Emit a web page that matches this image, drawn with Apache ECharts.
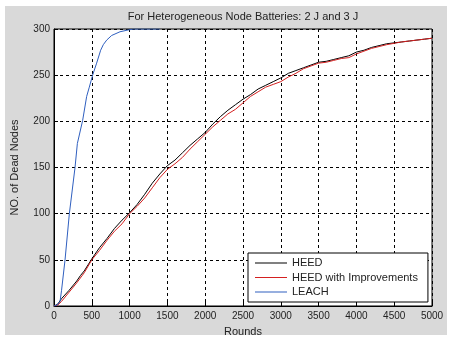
<!DOCTYPE html>
<html><head><meta charset="utf-8">
<script src="https://cdn.jsdelivr.net/npm/echarts@6/dist/echarts.min.js"></script>
<style>html,body{margin:0;padding:0;background:#fff}#c{width:452px;height:343px}</style>
</head><body><div id="c"></div>
<script>
const heedRounds = [0,50,100,200,300,350,400,500,600,700,800,900,1000,1100,1200,1300,1400,1500,1600,1700,1800,1900,2000,2100,2200,2300,2400,2500,2600,2700,2800,2900,3000,3100,3200,3300,3400,3500,3600,3700,3800,3900,4000,4100,4200,4300,4400,4500,4600,4700,4800,4900,5000];
const heed = [0,2,8,17,27,33,38,51,63,73,84,93,101,110,121,133,143,152,158,166,174,181,188,197,205,212,218,224,229,235,239,243,247,252,255,258,261,264,265,267,269,271,275,277,280,282,284,285,286,287,288,289,290];
const impRounds = [0,50,100,200,300,400,500,600,700,800,900,1000,1100,1200,1300,1400,1500,1600,1700,1800,1900,2000,2100,2200,2300,2400,2500,2600,2700,2800,2900,3000,3100,3200,3300,3400,3500,3600,3700,3800,3900,4000,4100,4200,4300,4400,4500,4600,4700,4800,4900,5000];
const heedImp = [0,1,5,15,25,36,50,60,71,81,89,100,108,117,128,139,148,154,161,170,178,186,194,201,208,213,220,227,232,237,240,243,248,252,257,260,263,264,266,268,269,273,276,279,281,283,284.5,286,287,288,289,290];
const leachRounds = [0,40,80,100,146,203,278,309,379,432,467,511,564,617,652,697,763,873,983,1050,1400];
const leach = [0,1,5,17,50,100,150,176,201,227,237,250,263,277,283,288,293,297,299,300,300];
const xTicks = [0,500,1000,1500,2000,2500,3000,3500,4000,4500,5000];
const yTicks = [0,50,100,150,200,250,300];

const zip = (a,b)=>a.map((v,i)=>[v,b[i]]);
const font = 'Liberation Sans, Arial, sans-serif';
const chart = echarts.init(document.getElementById('c'));
const dashed = {show:true,lineStyle:{color:'#000',type:[3,3],width:1}};
chart.setOption({
  backgroundColor:'#fff',
  animation:false,
  textStyle:{fontFamily:font},
  graphic:[
    {type:'rect',z:-100,silent:true,shape:{x:5,y:6,width:442,height:329},style:{fill:'#d9d9d9'}},
    {type:'text',x:243,y:17,style:{text:'For Heterogeneous Node Batteries: 2 J and 3 J',textAlign:'center',textVerticalAlign:'middle',font:'11px '+font,fill:'#222'}}
  ],
  grid:{left:54,right:20,top:29,bottom:37,show:true,backgroundColor:'#fff',borderColor:'#000',borderWidth:1},
  xAxis:{type:'value',min:xTicks[0],max:xTicks[xTicks.length-1],interval:500,
    name:'Rounds',nameLocation:'middle',nameGap:20,nameTextStyle:{fontSize:11,color:'#222',fontFamily:font},
    axisLine:{show:true,lineStyle:{color:'#000'}},axisTick:{show:true,inside:true,length:4,lineStyle:{color:'#000'}},
    axisLabel:{fontSize:10,color:'#222',margin:5,fontFamily:font,formatter:v=>String(v)},splitLine:dashed},
  yAxis:{type:'value',min:yTicks[0],max:yTicks[yTicks.length-1],interval:50,
    name:'NO. of Dead Nodes',nameLocation:'middle',nameGap:34,nameTextStyle:{fontSize:11,color:'#222',fontFamily:font},
    axisLine:{show:true,lineStyle:{color:'#000'}},axisTick:{show:true,inside:true,length:4,lineStyle:{color:'#000'}},
    axisLabel:{fontSize:10,color:'#222',margin:4,fontFamily:font,formatter:v=>String(v)},splitLine:dashed},
  legend:{orient:'vertical',left:248,top:253,itemWidth:32,itemHeight:1,itemGap:2.5,icon:'rect',
    padding:[4,10,4,7],backgroundColor:'#fff',borderColor:'#000',borderWidth:1,borderRadius:0,
    textStyle:{fontSize:11,lineHeight:12,color:'#222',fontFamily:font},
    data:['HEED','HEED with Improvements','LEACH']},
  series:[
    {name:'HEED',type:'line',symbol:'none',data:zip(heedRounds,heed),lineStyle:{color:'#000',width:1},itemStyle:{color:'#000'}},
    {name:'HEED with Improvements',type:'line',symbol:'none',data:zip(impRounds,heedImp),lineStyle:{color:'#d42020',width:1},itemStyle:{color:'#d42020'}},
    {name:'LEACH',type:'line',symbol:'none',data:zip(leachRounds,leach),lineStyle:{color:'#2f5fbf',width:1},itemStyle:{color:'#2f5fbf'}}
  ]
});
</script></body></html>
